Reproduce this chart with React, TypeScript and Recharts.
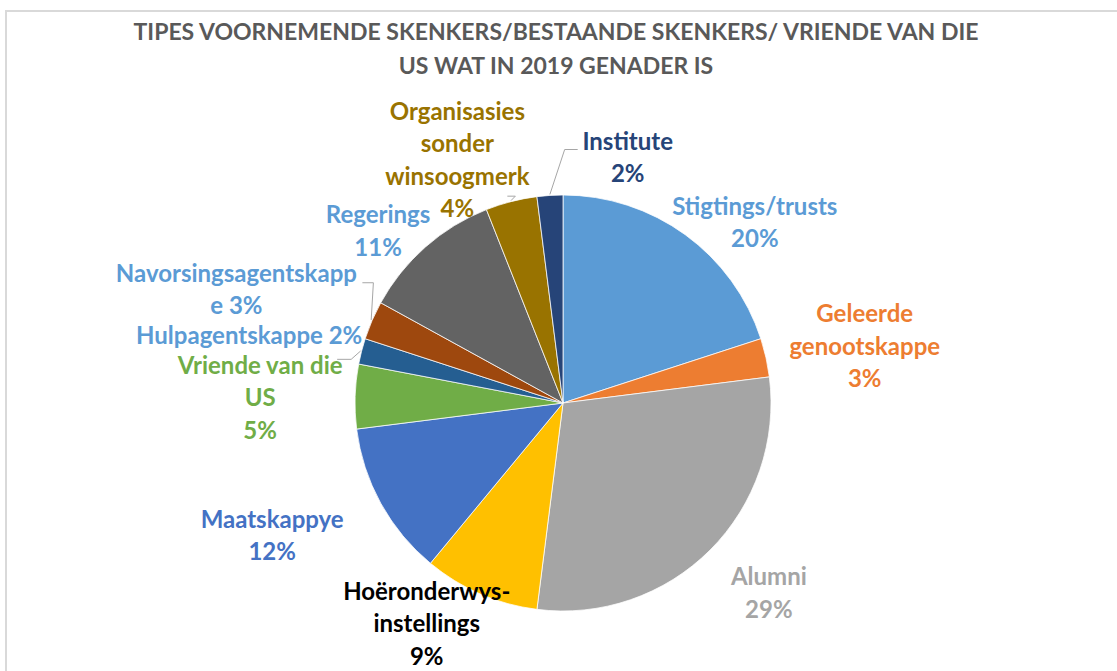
import { PieChart, Pie, Cell } from "recharts";

const CATEGORIES = [
  "Stigtings/trusts",
  "Geleerde genootskappe",
  "Alumni",
  "Hoëronderwys-instellings",
  "Maatskappye",
  "Vriende van die US",
  "Hulpagentskappe",
  "Navorsingsagentskappe",
  "Regerings",
  "Organisasies sonder winsoogmerk",
  "Institute",
];
const SHARES = [20, 3, 29, 9, 12, 5, 2, 3, 11, 4, 2];

const SLICE_COLORS = [
  "#5b9bd5",
  "#ed7d31",
  "#a5a5a5",
  "#ffc000",
  "#4472c4",
  "#70ad47",
  "#255e91",
  "#9e480e",
  "#636363",
  "#997300",
  "#264478",
];
const LABEL_COLORS = [
  "#5b9bd5",
  "#ed7d31",
  "#a5a5a5",
  "#000000",
  "#4472c4",
  "#70ad47",
  "#5b9bd5",
  "#5b9bd5",
  "#5b9bd5",
  "#997300",
  "#264478",
];

// how the label text is wrapped (Excel labels were dragged by hand)
const LABEL_WRAP: string[][] = [
  ["Stigtings/trusts"],
  ["Geleerde", "genootskappe"],
  ["Alumni"],
  ["Hoëronderwys-", "instellings"],
  ["Maatskappye"],
  ["Vriende van die", "US"],
  ["Hulpagentskappe"],
  ["Navorsingsagentskapp", "e"],
  ["Regerings"],
  ["Organisasies", "sonder", "winsoogmerk"],
  ["Institute"],
];
const PCT_INLINE = [false, false, false, false, false, false, true, true, false, false, false];

// nudge from the default label spot (1.25 * radius along the slice middle)
const LABEL_NUDGE: [number, number][] = [
  [39, 29],
  [48, -1],
  [22, 5],
  [-33, -19],
  [-63, 6],
  [-43, 2],
  [-62, -4],
  [-88, -11],
  [-13, 22],
  [-41, 8],
  [81, 13],
];

// leader lines: points relative to the label centre, ending on the slice edge
const LEADERS: Record<number, [number, number][]> = {
  6: [[88, 25], [102, 25]],
  7: [[126, -6], [137, -6]],
  9: [[50, 37], [58, 37]],
  10: [[-50, -7], [-63, -7]],
};

const data = CATEGORIES.map((name, i) => ({ name, value: SHARES[i] }));

const RAD = Math.PI / 180;
const LINE_H = 32.5;
const FONT = "Lato, 'Open Sans', sans-serif";

function renderLabel(props: any) {
  const { cx, cy, midAngle, outerRadius, index, percent } = props;
  const cos = Math.cos(-midAngle * RAD);
  const sin = Math.sin(-midAngle * RAD);
  const r = outerRadius * 1.25;
  const [nx, ny] = LABEL_NUDGE[index];
  const lx = cx + r * cos + nx;
  const ly = cy + r * sin + ny;
  const pct = `${Math.round(percent * 100)}%`;
  const lines = [...LABEL_WRAP[index]];
  if (PCT_INLINE[index]) lines[lines.length - 1] += ` ${pct}`;
  else lines.push(pct);
  const n = lines.length;
  const leader = LEADERS[index];
  let path = null;
  if (leader) {
    const ex = cx + (outerRadius + 1) * cos;
    const ey = cy + (outerRadius + 1) * sin;
    const pts = leader.map(([dx, dy]) => `${lx + dx},${ly + dy}`);
    path = (
      <polyline
        points={`${pts.join(" ")} ${ex},${ey}`}
        fill="none"
        stroke="#a6a6a6"
        strokeWidth={1}
      />
    );
  }
  return (
    <g key={`lbl-${index}`}>
      {path}
      <text
        x={lx}
        y={ly}
        textAnchor="middle"
        fill={LABEL_COLORS[index]}
        fontFamily={FONT}
        fontWeight={700}
        fontSize={24}
      >
        {lines.map((t, i) => (
          <tspan
            key={i}
            x={lx}
            y={ly + (i - (n - 1) / 2) * LINE_H}
            dominantBaseline="central"
          >
            {t}
          </tspan>
        ))}
      </text>
    </g>
  );
}

export default function App() {
  return (
    <div
      style={{
        position: "absolute",
        left: 0,
        top: 0,
        width: 1117,
        height: 671,
        overflow: "hidden",
        background: "#fff",
        fontFamily: FONT,
      }}
    >
      <div
        style={{
          position: "absolute",
          left: 5,
          top: 10,
          width: 1200,
          height: 800,
          border: "2px solid #d9d9d9",
        }}
      />
      <div
        style={{
          position: "absolute",
          left: 0,
          top: 14,
          width: 1112,
          textAlign: "center",
          color: "#595959",
          fontWeight: 700,
          fontSize: 23,
          lineHeight: "34px",
        }}
      >
        TIPES VOORNEMENDE SKENKERS/BESTAANDE SKENKERS/ VRIENDE VAN DIE
        <br />
        US WAT IN 2019 GENADER IS
      </div>
      <div style={{ position: "absolute", left: 0, top: 0 }}>
        <PieChart width={1117} height={671}>
          <Pie
            data={data}
            dataKey="value"
            nameKey="name"
            cx={558}
            cy={398}
            outerRadius={208}
            startAngle={90}
            endAngle={-270}
            stroke="#ffffff"
            strokeWidth={0.75}
            label={renderLabel}
            labelLine={false}
            isAnimationActive={false}
          >
            {data.map((d, i) => (
              <Cell key={d.name} fill={SLICE_COLORS[i]} />
            ))}
          </Pie>
        </PieChart>
      </div>
    </div>
  );
}
